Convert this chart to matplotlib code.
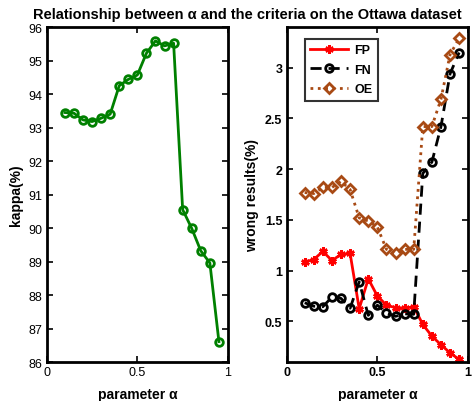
import numpy as np
import matplotlib
matplotlib.use("Agg")
import matplotlib.pyplot as plt

plt.rcParams['font.family'] = ['Liberation Sans', 'DejaVu Sans']

alpha = [0.10, 0.15, 0.20, 0.25, 0.30, 0.35, 0.40, 0.45, 0.50,
         0.55, 0.60, 0.65, 0.70, 0.75, 0.80, 0.85, 0.90, 0.95]

kappa = [93.45, 93.43, 93.23, 93.18, 93.28, 93.40, 94.25, 94.44, 94.57,
         95.22, 95.59, 95.44, 95.52, 90.55, 89.99, 89.32, 88.96, 86.61]

fp = [1.085, 1.11, 1.19, 1.10, 1.16, 1.17, 0.625, 0.92, 0.75,
      0.66, 0.635, 0.63, 0.645, 0.47, 0.355, 0.27, 0.19, 0.125]
fn = [0.684, 0.65, 0.645, 0.74, 0.727, 0.63, 0.89, 0.56, 0.66,
      0.585, 0.55, 0.575, 0.57, 1.958, 2.07, 2.42, 2.94, 3.15]
oe = [1.77, 1.76, 1.82, 1.82, 1.88, 1.80, 1.52, 1.49, 1.43,
      1.21, 1.17, 1.21, 1.21, 2.42, 2.42, 2.69, 3.13, 3.29]

fig = plt.figure(figsize=(4.72, 4.02), dpi=100)
ax1 = fig.add_axes([0.099, 0.097, 0.384, 0.833])
ax2 = fig.add_axes([0.607, 0.097, 0.385, 0.833])


def style(ax, bold_ticks):
    for s in ax.spines.values():
        s.set_linewidth(2)
    ax.tick_params(direction='in', top=True, right=True, width=1.2, length=4,
                   labelsize=9, pad=3)
    if bold_ticks:
        for t in ax.get_xticklabels() + ax.get_yticklabels():
            t.set_fontweight('bold')


ax1.plot(alpha, kappa, '-o', color='#008000', lw=2, ms=5.5, mew=2,
         mfc='none')
ax1.set_xlim(0, 1)
ax1.set_ylim(86, 96)
ax1.set_xticks([0, 0.5, 1])
ax1.set_xticklabels(['0', '0.5', '1'])
ax1.set_yticks(range(86, 97))
ax1.set_xlabel('parameter α', fontsize=10, fontweight='bold', labelpad=6)
ax1.set_ylabel('kappa(%)', fontsize=10, fontweight='bold', labelpad=4)
style(ax1, False)

ax2.plot(alpha, fp, '-', color='#ff0000', lw=2, marker=(6, 2, 0), ms=6,
         mew=1.8, label='FP')
ax2.plot(alpha, fn, '--o', color='black', lw=2, ms=5.5, mew=2, mfc='none',
         dashes=(4, 2.5), label='FN')
ax2.plot(alpha, oe, ':D', color='#a84a14', lw=2, ms=5, mew=2, mfc='none',
         label='OE')
ax2.set_xlim(0, 1)
ax2.set_ylim(0.1, 3.4)
ax2.set_xticks([0, 0.5, 1])
ax2.set_xticklabels(['0', '0.5', '1'])
ax2.set_yticks([0.5, 1, 1.5, 2, 2.5, 3])
ax2.set_yticklabels(['0.5', '1', '1.5', '2', '2.5', '3'])
ax2.set_xlabel('parameter α', fontsize=10, fontweight='bold', labelpad=6)
ax2.set_ylabel('wrong results(%)', fontsize=10, fontweight='bold', labelpad=4)
style(ax2, True)
leg = ax2.legend(loc='upper left', bbox_to_anchor=(0.10, 0.966),
                 prop={'weight': 'bold', 'size': 9}, frameon=True,
                 fancybox=False, edgecolor='black', borderpad=0.45,
                 handlelength=3, labelspacing=0.6, borderaxespad=0,
                 handletextpad=0.5)
leg.get_frame().set_linewidth(1.5)

fig.text(0.524, 0.963, 'Relationship between α and the criteria on the Ottawa dataset',
         ha='center', va='center', fontsize=10.5, fontweight='bold')

fig.savefig('out.png', dpi=100)
